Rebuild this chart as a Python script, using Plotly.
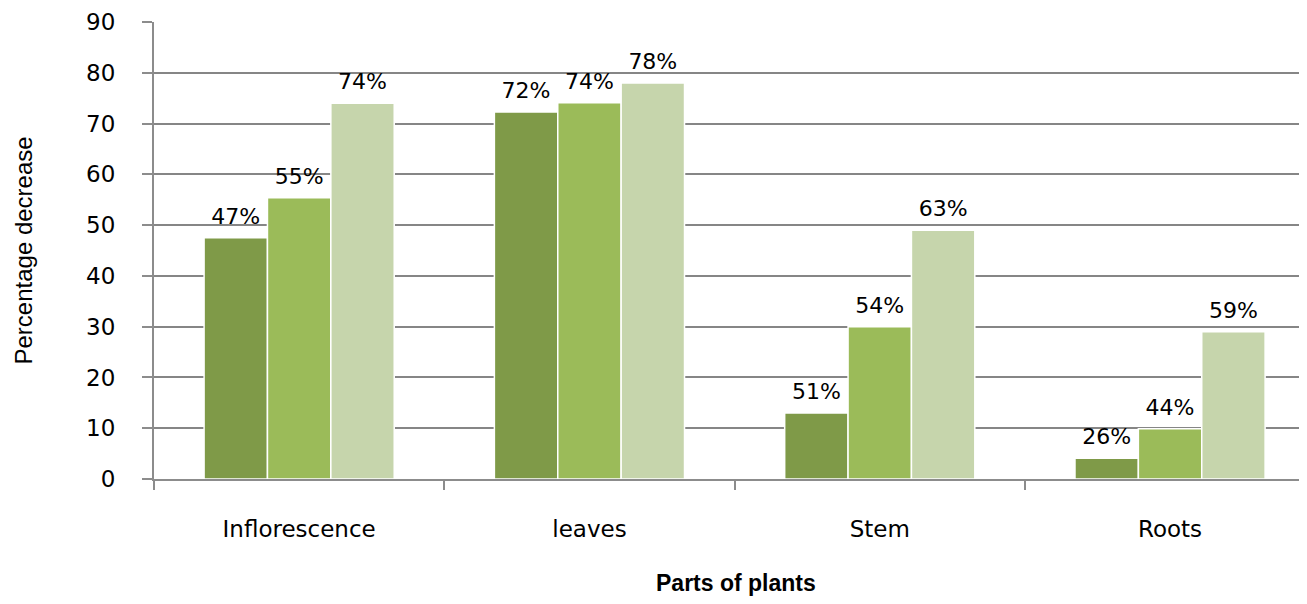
import plotly.graph_objects as go

categories = ["Inflorescence", "leaves", "Stem", "Roots"]
series1_values = [47.5, 72.3, 13.0, 4.1]
series2_values = [55.4, 74.1, 30.0, 9.9]
series3_values = [74.0, 78.0, 49.0, 29.0]
series1_labels = ["47%", "72%", "51%", "26%"]
series2_labels = ["55%", "74%", "54%", "44%"]
series3_labels = ["74%", "78%", "63%", "59%"]
colors = ["#7F9A48", "#9BBB59", "#C6D5AC"]
y_ticks = [0, 10, 20, 30, 40, 50, 60, 70, 80, 90]

# page body has an 8px margin; figure sized/offset to compensate
W, H = 1291, 588
L, T, B = 146, 14, 117
plot_w = W - L
plot_h = H - T - B

fig = go.Figure()
all_vals = [series1_values, series2_values, series3_values]
all_labels = [series1_labels, series2_labels, series3_labels]
for i, (vals, col) in enumerate(zip(all_vals, colors)):
    fig.add_trace(go.Bar(
        x=categories, y=vals, offsetgroup=str(i),
        marker=dict(color=col, line=dict(color="#FFFFFF", width=1.5)),
        showlegend=False,
    ))
for i, (vals, labels) in enumerate(zip(all_vals, all_labels)):
    fig.add_trace(go.Scatter(
        x=categories, y=vals, text=labels, mode="markers+text",
        textposition="top center", offsetgroup=str(i),
        marker=dict(size=12, opacity=0),
        textfont=dict(family="DejaVu Sans", size=22, color="#000000"),
        cliponaxis=False, showlegend=False,
    ))

fig.update_layout(
    width=W, height=H,
    margin=dict(l=L, r=0, t=T, b=B, pad=0),
    paper_bgcolor="#FFFFFF", plot_bgcolor="#FFFFFF",
    barmode="group", bargap=0.345, bargroupgap=0.0,
    scattermode="group", scattergap=0.345,
    font=dict(family="DejaVu Sans", color="#000000"),
)
fig.update_xaxes(
    range=[-0.5, -0.5 + plot_w / 290.3], showline=True, linecolor="#8C8C8C", linewidth=2,
    ticks="outside", tickson="boundaries", ticklen=9, tickwidth=2, tickcolor="#8C8C8C",
    tickfont=dict(family="DejaVu Sans", size=23, color="#000000"),
    ticklabelstandoff=28, showgrid=False,
)
fig.update_yaxes(
    range=[0, 90], tickvals=y_ticks, showline=True, linecolor="#8C8C8C", linewidth=2,
    ticks="outside", ticklen=10, tickwidth=2, tickcolor="#8C8C8C",
    tickfont=dict(family="DejaVu Sans", size=23, color="#000000"),
    showgrid=True, gridcolor="#868686", gridwidth=1.5, zeroline=False,
    ticklabelstandoff=22,
)
fig.add_annotation(text="Percentage decrease", xref="paper", yref="paper",
                   x=(15 - L) / plot_w, y=0.5, xanchor="center", yanchor="middle",
                   textangle=-90, showarrow=False,
                   font=dict(family="Liberation Sans", size=24, color="#000000"))
fig.add_annotation(text="<b>Parts of plants</b>", xref="paper", yref="paper",
                   x=(728 - L) / plot_w, y=((H - B) - 575) / plot_h,
                   xanchor="center", yanchor="middle", showarrow=False,
                   font=dict(family="Liberation Sans", size=23, color="#000000"))

fig.write_html("out.html")
